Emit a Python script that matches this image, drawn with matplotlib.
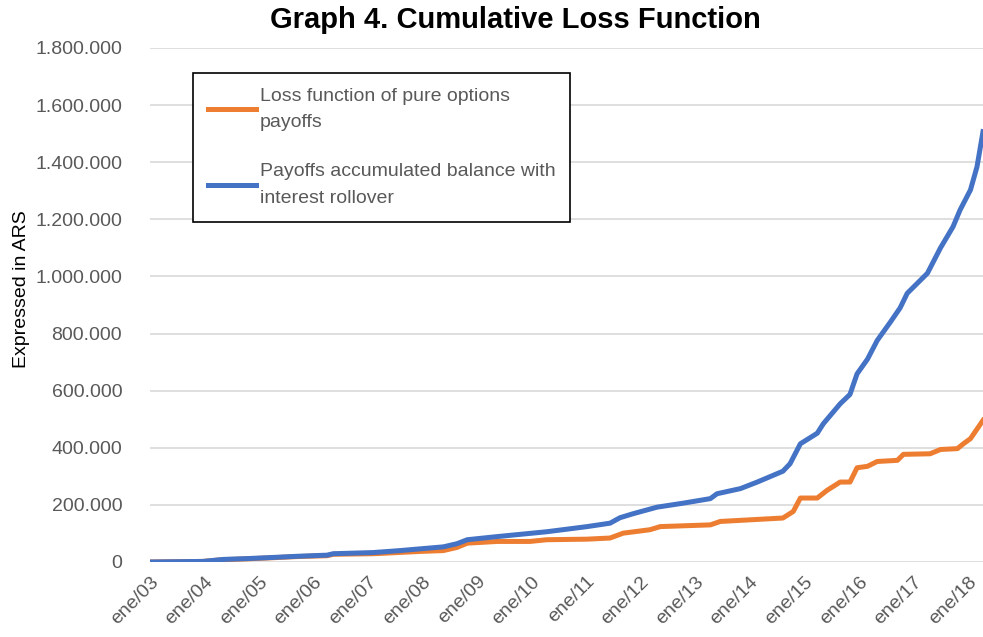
import matplotlib
matplotlib.use("Agg")
import matplotlib.pyplot as plt
from matplotlib.ticker import FuncFormatter

plt.rcParams['font.family'] = ['Liberation Sans', 'DejaVu Sans']

# values, x in decimal years, y in thousands of ARS
t_loss = [2003.00, 2003.97, 2004.34, 2004.78, 2005.15, 2005.70, 2006.25, 2006.36,
          2007.09, 2007.22, 2007.95, 2008.38, 2008.63, 2008.82, 2009.37, 2009.97,
          2010.28, 2011.02, 2011.44, 2011.68, 2012.17, 2012.36, 2013.28, 2013.46,
          2014.61, 2014.80, 2014.93, 2015.24, 2015.42, 2015.66, 2015.84, 2015.97,
          2016.16, 2016.34, 2016.71, 2016.82, 2017.31, 2017.50, 2017.81, 2017.92,
          2018.05, 2018.28]
loss = [0, 2, 8, 11, 14, 19, 22, 27,
        29, 30, 37, 40, 51, 66, 72, 72,
        78, 80, 84, 101, 113, 124, 130, 142,
        154, 177, 224, 224, 251, 280, 280, 330,
        335, 352, 356, 377, 379, 394, 397, 414,
        432, 496]

t_bal = [2003.00, 2003.97, 2004.34, 2004.78, 2005.15, 2005.70, 2006.25, 2006.36,
         2007.09, 2007.59, 2007.95, 2008.38, 2008.63, 2008.82, 2009.37, 2010.28,
         2011.02, 2011.44, 2011.62, 2011.86, 2012.30, 2012.78, 2013.28, 2013.40,
         2013.83, 2014.14, 2014.61, 2014.74, 2014.93, 2015.24, 2015.35, 2015.66,
         2015.84, 2015.97, 2016.16, 2016.34, 2016.58, 2016.76, 2016.89, 2017.26,
         2017.50, 2017.73, 2017.86, 2018.05, 2018.17, 2018.28]
balance = [0, 2, 9, 12, 15, 20, 24, 29,
           33, 40, 46, 53, 64, 78, 89, 106,
           124, 136, 155, 169, 192, 206, 222, 239,
           257, 280, 318, 344, 414, 451, 484, 554,
           587, 659, 710, 776, 840, 890, 941, 1011,
           1100, 1174, 1233, 1303, 1384, 1507]

years = list(range(2003, 2019))
year_labels = ['ene/%02d' % (y % 100) for y in years]

labels = ['Loss function of pure options\npayoffs',
          'Payoffs accumulated balance with\ninterest rollover']

fig = plt.figure(figsize=(9.83, 6.37), dpi=100)
ax = fig.add_axes([150/983, 1-562/637, 1-150/983, (562-48)/637])

ax.plot(t_loss, [v*1000 for v in loss], color='#ED7D31', lw=3.6, label=labels[0],
        solid_joinstyle='round')
ax.plot(t_bal, [v*1000 for v in balance], color='#4472C4', lw=3.6, label=labels[1],
        solid_joinstyle='round')

ax.set_xlim(2003.0, 2018.28)
ax.set_ylim(0, 1800000)
ax.set_yticks(range(0, 1800001, 200000))
ax.yaxis.set_major_formatter(FuncFormatter(lambda v, p: f"{v:,.0f}".replace(",", ".")))
ax.set_xticks(years)
ax.set_xticklabels(year_labels, rotation=45, ha='right', va='top', rotation_mode='anchor')
ax.tick_params(axis='both', length=0, labelsize=14, labelcolor='#595959')
ax.tick_params(axis='y', pad=20)
ax.tick_params(axis='x', pad=8)
ax.grid(axis='y', color='#D9D9D9', lw=1.2)
ax.set_axisbelow(True)
for s in ax.spines.values():
    s.set_visible(False)

ax.set_ylabel('Expressed in ARS', fontsize=14, color='black')
ax.yaxis.set_label_coords(-120/833, 0.53)

fig.text(515/983, 1-20/637, 'Graph 4. Cumulative Loss Function', ha='center', va='center',
         fontsize=21, fontweight='bold')

leg = ax.legend(loc='upper left', bbox_to_anchor=(193/983, 1-73/637),
                bbox_transform=fig.transFigure, borderaxespad=0, fontsize=14,
                frameon=True, fancybox=False, edgecolor='black', framealpha=1,
                handlelength=2.5, handletextpad=0.2, borderpad=0.75, labelspacing=1.65)
leg.get_frame().set_linewidth(1.2)
for txt in leg.get_texts():
    txt.set_color('#595959')
    txt.set_linespacing(1.75)

fig.savefig('out.png', dpi=100)
